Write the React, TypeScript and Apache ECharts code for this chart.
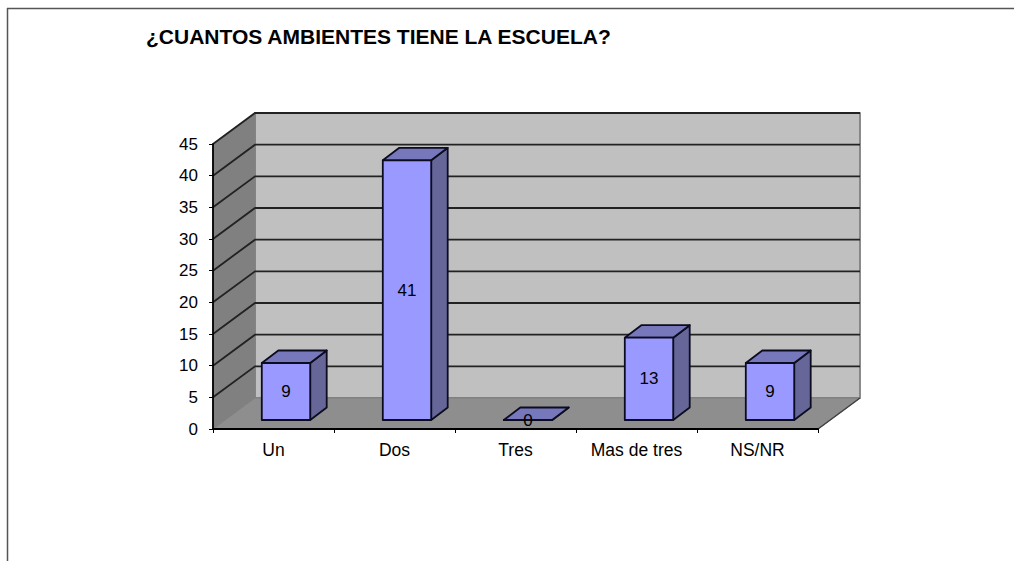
import React, { useEffect, useRef } from "react";
import * as echarts from "echarts";

const title = "¿CUANTOS AMBIENTES TIENE LA ESCUELA?";
const categories = ["Un", "Dos", "Tres", "Mas de tres", "NS/NR"];
const values = [9, 41, 0, 13, 9];
const gridValues = [0, 5, 10, 15, 20, 25, 30, 35, 40, 45];

const FONT = '"Liberation Sans", Arial, sans-serif';
const WALL_DX = 42;
const WALL_DY = -31;
const BAR_DX = 16.5;
const BAR_DY = -12.5;
const BAR_SHIFT_X = 12.5;
const BAR_SHIFT_Y = -9;
const BAR_RATIO = 0.4;

const poly = (points: number[][], fill: string, stroke: string, lineWidth = 1.8) => ({
  type: "polygon",
  shape: { points },
  style: { fill, stroke, lineWidth, lineJoin: "round" },
});

export default function App() {
  const ref = useRef<HTMLDivElement>(null);

  useEffect(() => {
    document.body.style.margin = "0";
    document.body.style.overflow = "hidden";
    const chart = echarts.init(ref.current!, null, { renderer: "svg" });

    const renderWalls = (params: any) => {
      const { x, y, width: w, height: h } = params.coordSys;
      const b = y + h;
      const r = x + w;
      return {
        type: "group",
        children: [
          poly(
            [[x + WALL_DX, y + WALL_DY], [r + WALL_DX, y + WALL_DY], [r + WALL_DX, b + WALL_DY], [x + WALL_DX, b + WALL_DY]],
            "#c0c0c0",
            "#808080",
            1.8
          ),
          poly(
            [[x, y], [x + WALL_DX, y + WALL_DY], [x + WALL_DX, b + WALL_DY], [x, b]],
            "#808080",
            "#808080",
            1
          ),
          poly(
            [[x, b], [r, b], [r + WALL_DX, b + WALL_DY], [x + WALL_DX, b + WALL_DY]],
            "#8e8e8e",
            "#808080",
            1
          ),
          {
            type: "line",
            shape: { x1: r, y1: b, x2: r + WALL_DX, y2: b + WALL_DY },
            style: { stroke: "#404040", lineWidth: 1.5 },
          },
        ],
      };
    };

    const renderGridLine = (params: any, api: any) => {
      const v = api.value(0);
      const left = params.coordSys.x;
      const right = left + params.coordSys.width;
      const py = api.coord([0, v])[1];
      const stroke = { stroke: "#222222", lineWidth: 1.8 };
      if (v === 0) return { type: "group", children: [] };
      return {
        type: "group",
        children: [
          {
            type: "polyline",
            shape: {
              points: [[left, py], [left + WALL_DX, py + WALL_DY], [right + WALL_DX, py + WALL_DY]],
            },
            style: { ...stroke, fill: "none" },
          },
        ],
      };
    };

    const renderBar = (_params: any, api: any) => {
      const i = api.value(0);
      const v = api.value(1);
      const band = api.size([1, 0])[0];
      const bw = band * BAR_RATIO;
      const c = api.coord([i, v]);
      const base = api.coord([i, 0]);
      const l = c[0] + BAR_SHIFT_X - bw / 2;
      const r = l + bw;
      const t = c[1] + BAR_SHIFT_Y;
      const b = base[1] + BAR_SHIFT_Y;
      const edge = "#0c0c20";
      return {
        type: "group",
        children: [
          poly([[r, t], [r + BAR_DX, t + BAR_DY], [r + BAR_DX, b + BAR_DY], [r, b]], "#666699", edge),
          poly([[l, t], [l + BAR_DX, t + BAR_DY], [r + BAR_DX, t + BAR_DY], [r, t]], "#7777bb", edge),
          poly([[l, t], [r, t], [r, b], [l, b]], "#9999ff", edge),
          {
            type: "text",
            style: {
              x: (l + r) / 2,
              y: (t + b) / 2,
              text: String(v),
              fill: "#000",
              font: `17px ${FONT}`,
              align: "center",
              verticalAlign: "middle",
            },
          },
        ],
      };
    };

    chart.setOption({
      animation: false,
      backgroundColor: "#ffffff",
      title: {
        text: title,
        left: 146,
        top: 26,
        padding: 0,
        textStyle: { fontFamily: FONT, fontSize: 21, fontWeight: "bold", color: "#000" },
      },
      graphic: [
        { type: "line", shape: { x1: 7, y1: 8.5, x2: 1014, y2: 8.5 }, style: { stroke: "#555", lineWidth: 1.5 } },
        { type: "line", shape: { x1: 7.5, y1: 8, x2: 7.5, y2: 561 }, style: { stroke: "#555", lineWidth: 1.5 } },
      ],
      grid: { left: 213, top: 144, width: 605, height: 285, containLabel: false },
      xAxis: {
        type: "category",
        data: categories,
        boundaryGap: true,
        axisLine: { show: true, lineStyle: { color: "#000", width: 1.8 }, onZero: false },
        axisTick: { show: true, alignWithLabel: false, length: 4, lineStyle: { color: "#000" } },
        axisLabel: { color: "#000", fontFamily: FONT, fontSize: 17.5, margin: 12 },
        z: 5,
      },
      yAxis: {
        type: "value",
        min: 0,
        max: 45,
        interval: 5,
        splitLine: { show: false },
        axisLine: { show: true, lineStyle: { color: "#000", width: 1.8 } },
        axisTick: { show: true, length: 4, lineStyle: { color: "#000" } },
        axisLabel: { color: "#000", fontFamily: FONT, fontSize: 17, margin: 15 },
        z: 5,
      },
      series: [
        { type: "custom", silent: true, z: 1, clip: false, data: [[0]], encode: { x: 0 }, renderItem: renderWalls },
        {
          type: "custom",
          silent: true,
          z: 2,
          clip: false,
          data: gridValues.map((v) => [v]),
          encode: { y: 0 },
          renderItem: renderGridLine,
        },
        {
          type: "custom",
          silent: true,
          z: 3,
          clip: false,
          data: values.map((v, i) => [i, v]),
          encode: { x: 0, y: 1 },
          renderItem: renderBar,
        },
      ],
    });
    return () => chart.dispose();
  }, []);

  return <div ref={ref} style={{ width: 1014, height: 561 }} />;
}
